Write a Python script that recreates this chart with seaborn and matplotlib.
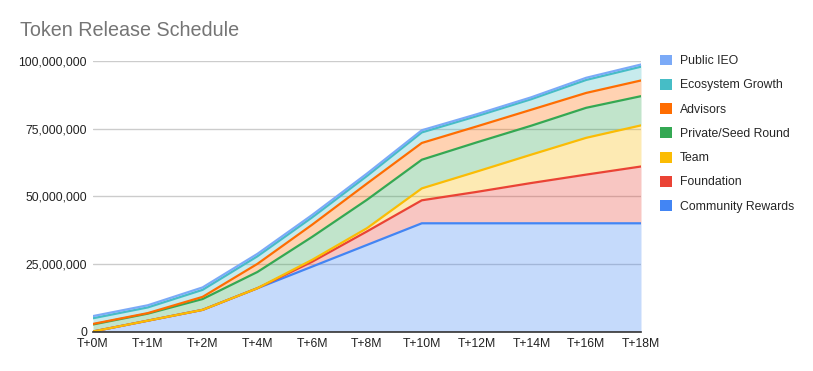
import matplotlib
matplotlib.use("Agg")
import matplotlib.pyplot as plt
import seaborn as sns
import pandas as pd
import numpy as np
from matplotlib.patches import Patch
from matplotlib.ticker import FuncFormatter

# ---- data (millions of tokens) ----
periods = ["T+0M", "T+1M", "T+2M", "T+4M", "T+6M", "T+8M", "T+10M", "T+12M", "T+14M", "T+16M", "T+18M"]
community_rewards = [0, 4, 8, 16, 24, 32, 40, 40, 40, 40, 40]
foundation = [0, 0, 0, 0, 1.8, 5.0, 8.5, 11.6, 14.9, 18.0, 21.0]
team = [0, 0, 0, 0, 0.7, 1.2, 4.4, 7.5, 10.5, 13.6, 15.2]
private_seed = [2.6, 2.6, 4.0, 6.0, 8.5, 10.5, 10.6, 10.8, 10.7, 11.1, 10.8]
advisors = [0.2, 0.2, 0.8, 3.0, 4.5, 6.0, 6.2, 5.9, 5.9, 5.5, 5.8]
ecosystem_growth = [2.1, 2.1, 2.6, 2.8, 2.7, 2.8, 3.9, 3.8, 3.9, 4.8, 5.1]
public_ieo = [0.8, 0.8, 0.9, 0.9, 0.9, 0.9, 0.8, 0.7, 0.7, 0.8, 0.8]

series_names = ["Community Rewards", "Foundation", "Team", "Private/Seed Round",
                "Advisors", "Ecosystem Growth", "Public IEO"]
series_values = [community_rewards, foundation, team, private_seed,
                 advisors, ecosystem_growth, public_ieo]
colors = ["#4285F4", "#EA4335", "#FBBC04", "#34A853", "#FF6D01", "#46BDC6", "#7BAAF7"]

sns.set_theme(style="white")
plt.rcParams["font.family"] = ["Liberation Sans", "DejaVu Sans"]

df = pd.DataFrame({n: np.array(v) * 1e6 for n, v in zip(series_names, series_values)})
df["x"] = np.arange(len(periods))
cum = df[series_names].cumsum(axis=1)

fig = plt.figure(figsize=(8.13, 3.71), dpi=100)
ax = fig.add_axes([93 / 813, 1 - 331.5 / 371, (641 - 93) / 813, (331.5 - 61) / 371])

lower = np.zeros(len(periods))
for name, col in zip(series_names, colors):
    upper = cum[name].values
    ax.fill_between(df["x"], lower, upper, color=col, alpha=0.3, linewidth=0, zorder=2)
    lower = upper
for i, (name, col) in enumerate(zip(series_names, colors)):
    line_df = pd.DataFrame({"x": df["x"], "y": cum[name].values})
    sns.lineplot(data=line_df, x="x", y="y", ax=ax, color=col, linewidth=1.6,
                 zorder=3 + i, legend=False)

ax.set_xlim(0, len(periods) - 1)
ax.set_ylim(0, 100e6)
ax.set_yticks([0, 25e6, 50e6, 75e6, 100e6])
ax.yaxis.set_major_formatter(FuncFormatter(lambda v, p: f"{int(v):,}"))
ax.set_xticks(df["x"])
ax.set_xticklabels(periods)
ax.set_xlabel("")
ax.set_ylabel("")
ax.grid(axis="y", color="#cccccc", linewidth=1.0, zorder=1)
ax.grid(axis="x", visible=False)
for s in ["top", "right", "left"]:
    ax.spines[s].set_visible(False)
ax.spines["bottom"].set_color("#333333")
ax.spines["bottom"].set_linewidth(1.2)
ax.spines["bottom"].set_zorder(20)
ax.tick_params(axis="both", length=0, labelsize=8.8, labelcolor="#222222")
ax.tick_params(axis="x", pad=5)
ax.tick_params(axis="y", pad=4.3)

fig.text(20 / 813, 1 - 31 / 371, "Token Release Schedule", fontsize=14.2,
         color="#757575", va="center", ha="left")

handles = [Patch(facecolor=c, edgecolor="none") for c in colors[::-1]]
fig.legend(handles, series_names[::-1], loc="upper left",
           bbox_to_anchor=(660 / 813, 1 - 54.5 / 371), frameon=False,
           fontsize=8.8, handlelength=1.0, handleheight=1.0, handletextpad=0.65,
           labelspacing=0.95, borderaxespad=0, borderpad=0)

fig.savefig("out.png", dpi=100)
